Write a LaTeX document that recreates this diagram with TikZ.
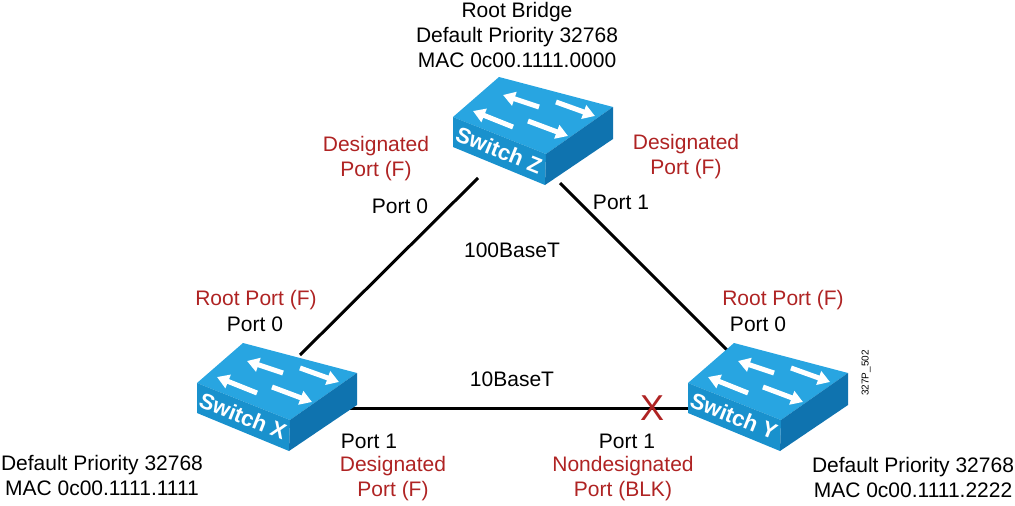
\documentclass[tikz,border=0pt]{standalone}
\usepackage{fontspec}
\setmainfont{Liberation Sans}
\usetikzlibrary{arrows.meta}
\definecolor{rd}{RGB}{175,35,35}
\definecolor{bt}{RGB}{40,165,225}
\definecolor{bf}{RGB}{25,145,205}
\definecolor{bs}{RGB}{15,115,175}
\tikzset{
 lbl/.style={font=\fontsize{21}{25}\selectfont, inner sep=0pt, align=center},
 rlbl/.style={lbl, text=rd},
 link/.style={line width=3pt, black},
 warr/.style={white, line width=5pt, -{Triangle[width=14pt,length=12pt]}},
 pics/switch/.style={code={
  \fill[bt] (0,0) -- (46,-40) -- (160,-10) -- (93,37) -- cycle;
  \fill[bf] (0,0) -- (93,37) -- (92,68) -- (0,30) -- cycle;
  \fill[bs] (93,37) -- (160,-10) -- (160,22) -- (92,68) -- cycle;
  \draw[warr] (86,-10) -- (50,-22);
  \draw[warr] (103,-15) -- (142,-1);
  \draw[warr] (60,10) -- (20,-6);
  \draw[warr] (75,4) -- (115,19);
  \node[white, font=\bfseries\fontsize{22}{24}\selectfont, rotate=-22, inner sep=0pt] at (46,33) {#1};
 }}
}
\begin{document}
\begin{tikzpicture}[x=1pt,y=-1pt]
\useasboundingbox (0,0) rectangle (1015,506);
\coordinate (zx) at (478,178);
\coordinate (xz) at (300,355);
\coordinate (zy) at (560,183);
\coordinate (yz) at (737,360);
\coordinate (xy) at (350,408);
\coordinate (yx) at (690,408);
\draw[link] (zx) -- (xz);
\draw[link] (zy) -- (yz);
\draw[link] (xy) -- (yx);
\pic (swz) at (453,117) {switch={Switch Z}};
\pic (swx) at (197,383) {switch={Switch X}};
\pic (swy) at (688,383) {switch={Switch Y}};
\node[text=rd, font=\fontsize{36}{36}\selectfont, inner sep=0pt] (blk) at (652,408) {X};
\node[lbl] (t1) at (517,12) {Root Bridge};
\node[lbl] (t2) at (517,37) {Default Priority 32768};
\node[lbl] (t3) at (517,60) {MAC 0c00.1111.0000};
\node[rlbl] (dzl) at (376,159) {Designated\\Port (F)};
\node[lbl] (pz0) at (400,206) {Port 0};
\node[rlbl] (dzr) at (686,157) {Designated\\Port (F)};
\node[lbl] (pz1) at (621,202) {Port 1};
\node[lbl] (b100) at (512,250) {100BaseT};
\node[rlbl] (rpx) at (256,300) {Root Port (F)};
\node[lbl] (px0) at (255,324) {Port 0};
\node[rlbl] (rpy) at (783,300) {Root Port (F)};
\node[lbl] (py0) at (758,324) {Port 0};
\node[lbl] (b10) at (512,379) {10BaseT};
\node[lbl] (px1) at (369,441) {Port 1};
\node[rlbl] (dx) at (393,479) {Designated\\Port (F)};
\node[lbl] (py1) at (627,441) {Port 1};
\node[rlbl] (ndy) at (623,479) {Nondesignated\\Port (BLK)};
\node[lbl] (dpx) at (102,475) {Default Priority 32768\\MAC 0c00.1111.1111};
\node[lbl] (dpy) at (913,477) {Default Priority 32768\\MAC 0c00.1111.2222};
\node[font=\fontsize{10}{11}\selectfont, rotate=90, inner sep=0pt] (id) at (866,373) {327P\_502};
\end{tikzpicture}
\end{document}
